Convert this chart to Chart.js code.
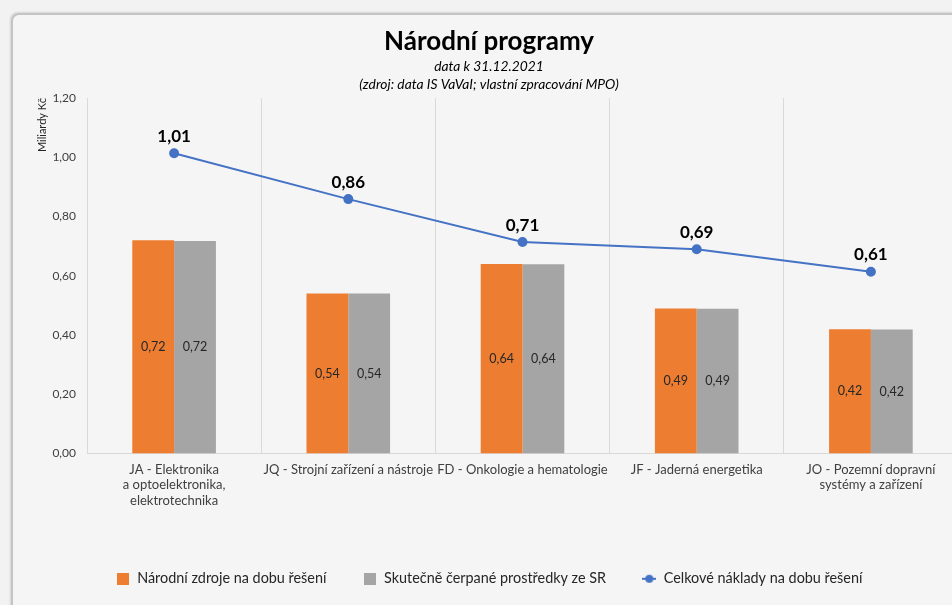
<!DOCTYPE html>
<html lang="cs">
<head>
<meta charset="UTF-8">
<title>Národní programy</title>
<style>
    html, body { margin: 0; padding: 0; background: #f2f2f2; overflow: hidden; width: 952px; height: 605px; }
    .card { position: absolute; left: 11px; top: 13px; width: 1000px; height: 700px; background: #f5f5f5;
            border-left: 2px solid #c4c4c4; border-top: 2px solid #c4c4c4; border-top-left-radius: 8px;
            box-shadow: -1px -1px 2px rgba(0,0,0,0.12); }
    #chart { position: absolute; left: 1px; top: 1px; }
</style>
<script src="https://cdn.jsdelivr.net/npm/chart.js"></script>
</head>
<body>
<div class="card"><canvas id="chart" width="950" height="590"></canvas></div>
<script>
    const categories = [
        ['JA - Elektronika', 'a optoelektronika,', 'elektrotechnika'],
        ['JQ - Strojní zařízení a nástroje'],
        ['FD - Onkologie a hematologie'],
        ['JF - Jaderná energetika'],
        ['JO - Pozemní dopravní', 'systémy a zařízení']
    ];
    const narodniZdroje = [0.72, 0.54, 0.64, 0.49, 0.42];
    const cerpaneSR = [0.718, 0.54, 0.639, 0.489, 0.419];
    const celkoveNaklady = [1.014, 0.859, 0.714, 0.690, 0.614];
    const yTicks = [0, 0.2, 0.4, 0.6, 0.8, 1.0, 1.2];

    const FONT = "Lato, 'Open Sans', sans-serif";
    const fmt = v => v.toFixed(2).replace('.', ',');

    // legend markers
    function boxMarker(color) {
        const c = document.createElement('canvas');
        c.width = 12; c.height = 12;
        const g = c.getContext('2d');
        g.fillStyle = color; g.fillRect(0, 0, 12, 12);
        return c;
    }
    function lineMarker(color) {
        const c = document.createElement('canvas');
        c.width = 14; c.height = 12;
        const g = c.getContext('2d');
        g.strokeStyle = color; g.lineWidth = 2;
        g.beginPath(); g.moveTo(0, 6); g.lineTo(14, 6); g.stroke();
        g.fillStyle = color; g.beginPath(); g.arc(7, 6, 4, 0, Math.PI * 2); g.fill();
        return c;
    }
    const markers = [boxMarker('#ed7d31'), boxMarker('#a5a5a5'), lineMarker('#4472c4')];

    const valueLabels = {
        id: 'valueLabels',
        afterDatasetsDraw(chart) {
            const ctx = chart.ctx;
            ctx.save();
            ctx.textAlign = 'center';
            ctx.textBaseline = 'middle';
            chart.data.datasets.forEach((ds, i) => {
                const meta = chart.getDatasetMeta(i);
                meta.data.forEach((el, j) => {
                    const v = ds.data[j];
                    if (ds.type === 'line') {
                        ctx.font = "bold 17px " + FONT;
                        ctx.fillStyle = '#000';
                        ctx.fillText(fmt(v), el.x, el.y - 17);
                    } else {
                        ctx.font = "12.5px " + FONT;
                        ctx.fillStyle = '#262626';
                        ctx.fillText(fmt(v), el.x, (el.y + el.base) / 2);
                    }
                });
            });
            ctx.restore();
        }
    };

    new Chart(document.getElementById('chart'), {
        data: {
            labels: categories,
            datasets: [
                { type: 'line', label: 'Celkové náklady na dobu řešení', data: celkoveNaklady,
                  borderColor: '#4472c4', backgroundColor: '#4472c4', borderWidth: 2,
                  pointRadius: 4, pointHoverRadius: 4, order: 0 },
                { type: 'bar', label: 'Národní zdroje na dobu řešení', data: narodniZdroje,
                  backgroundColor: '#ed7d31', categoryPercentage: 0.48, barPercentage: 1, order: 1 },
                { type: 'bar', label: 'Skutečně čerpané prostředky ze SR', data: cerpaneSR,
                  backgroundColor: '#a5a5a5', categoryPercentage: 0.48, barPercentage: 1, order: 2 }
            ]
        },
        options: {
            responsive: false,
            animation: false,
            layout: { padding: { left: 0, right: 0, top: 0, bottom: 10 } },
            plugins: {
                title: { display: true, text: 'Národní programy', color: '#000',
                         font: { family: FONT, size: 26, weight: 'bold' }, padding: { top: 10, bottom: 0 } },
                subtitle: { display: true, text: ['data k 31.12.2021', '(zdroj: data IS VaVaI; vlastní zpracování MPO)'],
                            color: '#000', font: { family: FONT, size: 13.8, style: 'italic', lineHeight: 1.3 },
                            padding: { top: 0, bottom: 5 } },
                legend: {
                    position: 'bottom',
                    labels: {
                        usePointStyle: true, color: '#262626', padding: 36,
                        font: { family: FONT, size: 14.4 },
                        generateLabels(chart) {
                            const items = Chart.defaults.plugins.legend.labels.generateLabels(chart);
                            const order = [1, 2, 0];
                            return order.map((di, k) => {
                                const it = items.find(x => x.datasetIndex === di);
                                it.pointStyle = markers[k];
                                return it;
                            });
                        }
                    }
                },
                tooltip: { enabled: false }
            },
            scales: {
                x: {
                    grid: { offset: true, color: '#d9d9d9', drawTicks: false },
                    border: { color: '#d9d9d9' },
                    ticks: { color: '#404040', font: { family: FONT, size: 13 }, maxRotation: 0, autoSkip: false, padding: 8 },
                    afterFit(scale) { scale.height = 82; }
                },
                y: {
                    min: 0, max: 1.2,
                    grid: { display: false },
                    border: { display: false },
                    afterBuildTicks(scale) { scale.ticks = yTicks.map(v => ({ value: v })); },
                    ticks: { color: '#404040', font: { family: FONT, size: 12 }, padding: 3, callback: v => fmt(v) },
                    title: { display: true, text: 'Miliardy Kč', align: 'end', color: '#262626',
                             font: { family: FONT, size: 11 }, padding: { top: 22, bottom: 6 } },
                    afterFit(scale) { scale.width = 73; }
                }
            }
        },
        plugins: [valueLabels]
    });
</script>
</body>
</html>
